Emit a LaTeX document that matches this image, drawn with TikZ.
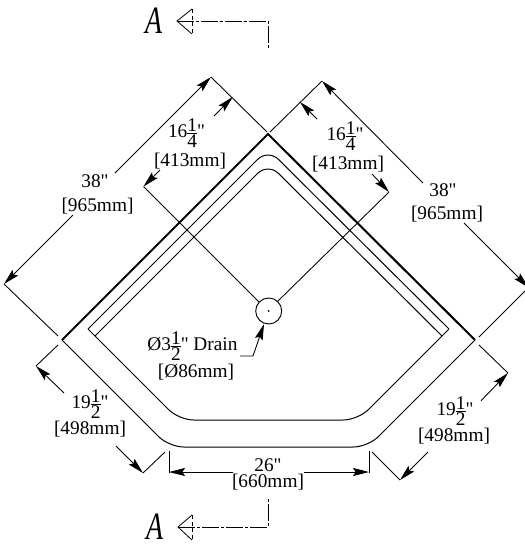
\documentclass[tikz,border=0pt]{standalone}
\usepackage{fontspec}
\newfontfamily\lblfont{Liberation Serif}
\usetikzlibrary{arrows.meta}
\tikzset{dimline/.style = {line width = 0.65pt, -{Stealth[length = 12pt, width = 6pt, inset = 2pt]}}}
\tikzset{extline/.style = {line width = 0.65pt}}
\tikzset{curbline/.style = {line width = 0.75pt, rounded corners = 11pt}}
\tikzset{lbl/.style = {inner sep = 0, font = \fontsize{14.5}{16}\selectfont\lblfont}}
\tikzset{cutline/.style = {line width = 0.6pt, dash pattern = on 13pt off 1.5pt on 2pt off 1.5pt}}
\tikzset{cutmark/.style = {inner sep = 0, xscale = 0.72, font = \fontsize{29}{30}\selectfont\lblfont\itshape}}
\newcommand{\frc}[2]{$\vcenter{\offinterlineskip\hbox to 0.5em{\hss #1\hss}\kern 1.2pt\hrule\kern 1.2pt\hbox to 0.5em{\hss #2\hss}}$}

\begin{document}
\begin{tikzpicture}[x = 0.75pt, y = -0.75pt]
      \clip (0, 0) rectangle (525, 544);
      % pan outline
      \draw [line width = 1.5pt, line join = miter] (62, 340) -- (268, 134) -- (475, 340);
      \draw [curbline] (62, 340) -- (169, 447) -- (368, 447) -- (475, 340);
      \draw [curbline] (88, 329) -- (268, 149) -- (449, 329);
      \draw [curbline] (95, 336) -- (268, 163) -- (442, 336);
      \draw [curbline] (88, 329) -- (179, 420) -- (358, 420) -- (449, 329);
      % drain
      \node [draw, circle, line width = 0.7pt, inner sep = 0, minimum size = 19.5pt] (drain) at (268.7, 311) {};
      \node [fill, circle, inner sep = 0, minimum size = 1.5pt] (drainpt) at (268.7, 311) {};
      \draw [dimline] (240, 356) -- (253, 356) -- (264, 324);
      % section marks
      \node [cutmark] (secta) at (154, 21) {A};
      \node [cutmark] (sectb) at (155, 527) {A};
      \draw [cutline] (177, 21) -- (268, 21) -- (268, 49);
      \draw [cutline] (178, 527) -- (268, 527) -- (268, 499);
      \draw [line width = 0.6pt] (192, 9) -- (177, 21) -- (192, 34);
      \draw [line width = 0.6pt] (192, 515) -- (178, 527) -- (192, 540);
      \draw [line width = 0.6pt, densely dashed] (192, 9) -- (192, 34);
      \draw [line width = 0.6pt, densely dashed] (192, 515) -- (192, 540);
      % extension lines
      \draw [extline] (211, 77) -- (267, 132);
      \draw [extline] (4, 284) -- (58, 336);
      \draw [extline] (322, 81) -- (270, 132);
      \draw [extline] (528.5, 287.5) -- (479, 337);
      \draw [extline] (143.5, 186.5) -- (259, 302);
      \draw [extline] (389, 192) -- (277, 302);
      \draw [extline] (36, 366) -- (58, 345);
      \draw [extline] (143, 473) -- (165, 452);
      \draw [extline] (508, 373) -- (479, 345);
      \draw [extline] (400, 480) -- (372, 452);
      \draw [extline] (169, 451) -- (169, 473);
      \draw [extline] (369, 451) -- (369, 473);
      % dimension lines
      \draw [dimline] (115, 173) -- (211, 77);
      \draw [dimline] (73, 215) -- (4, 284);
      \draw [dimline] (423, 183) -- (322, 81);
      \draw [dimline] (464, 223) -- (528.5, 287.5);
      \draw [dimline] (214, 116) -- (232.7, 97);
      \draw [dimline] (160, 170) -- (143.5, 186.5);
      \draw [dimline] (317, 119) -- (300, 102);
      \draw [dimline] (372, 174) -- (389, 192);
      \draw [dimline] (64, 393) -- (36, 366);
      \draw [dimline] (116, 446) -- (143, 473);
      \draw [dimline] (481, 400.7) -- (508, 373);
      \draw [dimline] (428, 452) -- (400, 480);
      \draw [dimline] (233, 472) -- (169, 472);
      \draw [dimline] (304, 472) -- (369, 472);
      % labels
      \node [lbl] (leftlen) at (95, 181) {38"};
      \node [lbl] (leftlenmm) at (97.5, 206) {[965mm]};
      \node [lbl] (rightlen) at (443, 190) {38"};
      \node [lbl] (rightlenmm) at (447, 214) {[965mm]};
      \node [lbl] (leftcen) at (186.5, 133) {16\frc{1}{4}"};
      \node [lbl] (leftcenmm) at (190, 161) {[413mm]};
      \node [lbl] (rightcen) at (345, 136) {16\frc{1}{4}"};
      \node [lbl] (rightcenmm) at (348, 164) {[413mm]};
      \node [lbl] (leftcut) at (90, 404) {19\frc{1}{2}"};
      \node [lbl] (leftcutmm) at (90, 429) {[498mm]};
      \node [lbl] (rightcut) at (455, 411) {19\frc{1}{2}"};
      \node [lbl] (rightcutmm) at (454, 436) {[498mm]};
      \node [lbl] (drainlen) at (192.5, 346) {Ø3\frc{1}{2}" Drain};
      \node [lbl] (drainmm) at (196, 372) {[Ø86mm]};
      \node [lbl] (frontlen) at (268, 465) {26"};
      \node [lbl] (frontmm) at (268, 482) {[660mm]};
    \end{tikzpicture}
\end{document}
